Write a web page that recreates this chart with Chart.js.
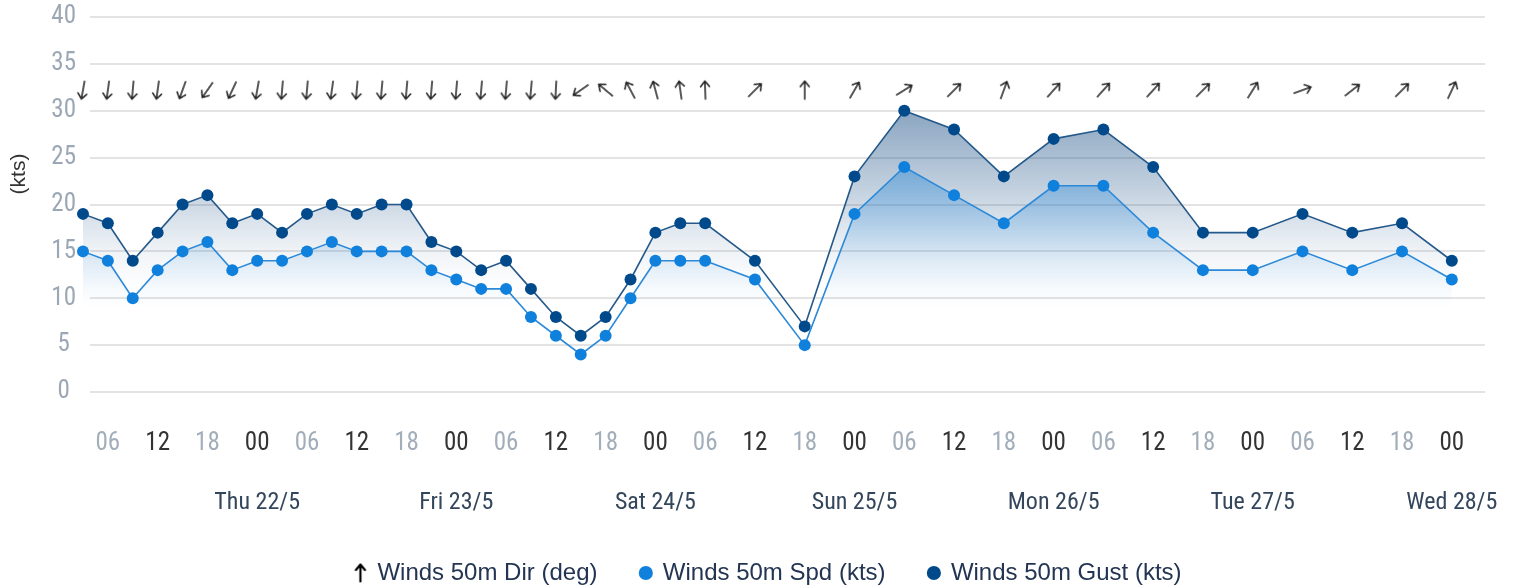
<!DOCTYPE html>
<html><head><meta charset="utf-8">
<script src="https://cdn.jsdelivr.net/npm/chart.js@4.4.1/dist/chart.umd.min.js"></script>
<style>html,body{margin:0;padding:0;background:#fff;}#wrap{width:1515px;height:588px;}</style>
</head><body><div id="wrap"><canvas id="c" width="1515" height="588"></canvas></div>
<script>
// hours relative to Thu 22/5 00:00
const hours = [-21,-18,-15,-12,-9,-6,-3,0,3,6,9,12,15,18,21,24,27,30,33,36,39,42,45,48,51,54,60,66,72,78,84,90,96,102,108,114,120,126,132,138,144];
const windDir = [10,8,5,8,20,35,25,10,5,5,8,5,5,5,5,5,5,5,5,3,55,130,152,165,172,178,225,180,210,238,225,200,222,222,222,225,212,250,232,225,205];
const windSpd = [15,14,10,13,15,16,13,14,14,15,16,15,15,15,13,12,11,11,8,6,4,6,10,14,14,14,12,5,19,24,21,18,22,22,17,13,13,15,13,15,12];
const windGust = [19,18,14,17,20,21,18,19,17,19,20,19,20,20,16,15,13,14,11,8,6,8,12,17,18,18,14,7,23,30,28,23,27,28,24,17,17,19,17,18,14];
const hourTicks = [-18,-12,-6,0,6,12,18,24,30,36,42,48,54,60,66,72,78,84,90,96,102,108,114,120,126,132,138,144];
const dayTicks = [0,24,48,72,96,120,144];
const dayLabels = ['Thu 22/5','Fri 23/5','Sat 24/5','Sun 25/5','Mon 26/5','Tue 27/5','Wed 28/5'];
const yTicks = [0,5,10,15,20,25,30,35,40];
const ARROW_Y = 32.2;

const NARROW = "'Liberation Sans Narrow','Arial Narrow','Roboto Condensed',Roboto,sans-serif";
const SANS = "'Liberation Sans',Arial,Helvetica,sans-serif";
const GAP = '\u00a0\u00a0\u00a0\u00a0\u00a0';

function makeArrow(w, h, lw, color) {
  const c = document.createElement('canvas');
  c.width = w; c.height = h;
  const g = c.getContext('2d');
  g.strokeStyle = color; g.lineWidth = lw; g.lineCap = 'round'; g.lineJoin = 'round';
  g.beginPath();
  g.moveTo(w/2, h-1.5); g.lineTo(w/2, 1.5);
  g.moveTo(w/2-4.5, 7); g.lineTo(w/2, 1.5); g.lineTo(w/2+4.5, 7);
  g.stroke();
  return c;
}
const arrowImg = makeArrow(14, 21, 1.5, '#222');
const legendArrow = makeArrow(14, 20, 2.2, '#000');

function hourLabel(v) {
  const h = ((v % 24) + 24) % 24;
  return (h < 10 ? '0' : '') + h;
}

function vGrad(chart, topVal, midVal, botVal, rgb, aTop, aMid) {
  const {ctx, chartArea, scales} = chart;
  if (!chartArea) return 'rgba(0,0,0,0)';
  const y = scales.y;
  const t = y.getPixelForValue(topVal), m = y.getPixelForValue(midVal), b = y.getPixelForValue(botVal);
  const g = ctx.createLinearGradient(0, t, 0, b);
  g.addColorStop(0, `rgba(${rgb},${aTop})`);
  g.addColorStop((m - t) / (b - t), `rgba(${rgb},${aMid})`);
  g.addColorStop(1, `rgba(${rgb},0)`);
  return g;
}

const decor = {
  id: 'decor',
  afterLayout(chart) {
    const l = chart.legend;
    if (l) { l.left += 26; l.right += 26; l.top += 7; l.bottom += 7; }
  },
  beforeDatasetsDraw(chart) {
    const {ctx, chartArea, scales: {y}} = chart;
    ctx.save();
    ctx.strokeStyle = '#e3e3e3';
    ctx.lineWidth = 2;
    yTicks.forEach(v => {
      const py = Math.round(y.getPixelForValue(v));
      ctx.beginPath();
      ctx.moveTo(chartArea.left + 12, py);
      ctx.lineTo(chartArea.right, py);
      ctx.stroke();
    });
    ctx.restore();
  },
  afterDraw(chart) {
    const {ctx} = chart;
    ctx.save();
    ctx.translate(19, 174);
    ctx.rotate(-Math.PI / 2);
    ctx.font = "21px " + SANS;
    ctx.fillStyle = '#333';
    ctx.textAlign = 'center';
    ctx.textBaseline = 'middle';
    ctx.fillText('(kts)', 0, 0);
    ctx.restore();
  }
};

new Chart(document.getElementById('c'), {
  type: 'line',
  data: {
    datasets: [
      {
        label: 'Winds 50m Dir (deg)',
        data: hours.map(h => ({x: h, y: ARROW_Y})),
        showLine: false,
        pointStyle: arrowImg,
        pointRadius: 10,
        rotation: c => windDir[c.dataIndex] + 180,
        borderColor: '#000',
        backgroundColor: '#000',
        clip: false
      },
      {
        label: 'Winds 50m Spd (kts)',
        data: hours.map((h, i) => ({x: h, y: windSpd[i]})),
        borderColor: '#2b89d8',
        borderWidth: 1.6,
        pointBackgroundColor: '#0f80dc',
        pointBorderColor: '#0f80dc',
        pointRadius: 6,
        pointBorderWidth: 0,
        tension: 0,
        fill: 'origin',
        backgroundColor: c => vGrad(c.chart, 24, 14, 9, '30,130,215', 0.42, 0.1),
        clip: 10
      },
      {
        label: 'Winds 50m Gust (kts)',
        data: hours.map((h, i) => ({x: h, y: windGust[i]})),
        borderColor: '#24598a',
        borderWidth: 1.6,
        pointBackgroundColor: '#004a8c',
        pointBorderColor: '#004a8c',
        pointRadius: 6,
        pointBorderWidth: 0,
        tension: 0,
        fill: 'origin',
        backgroundColor: c => vGrad(c.chart, 30, 15, 11, '0,60,120', 0.46, 0.06),
        clip: 10
      }
    ]
  },
  options: {
    responsive: false,
    animation: false,
    events: [],
    devicePixelRatio: 1,
    layout: {padding: {top: 17, right: 30, left: 0, bottom: 0}},
    scales: {
      x: {
        type: 'linear', min: -21.6, max: 148, weight: 0,
        afterBuildTicks: s => { s.ticks = hourTicks.map(v => ({value: v})); },
        afterFit: s => { s.height = 60; s.paddingLeft = 0; s.paddingRight = 0; },
        grid: {display: false, drawTicks: false},
        border: {display: false},
        ticks: {
          autoSkip: false, maxRotation: 0, padding: 37,
          font: {family: NARROW, size: 25},
          color: c => { const h = ((c.tick.value % 24) + 24) % 24; return (h === 6 || h === 18) ? '#a3aebb' : '#333333'; },
          callback: v => hourLabel(v)
        }
      },
      x2: {
        type: 'linear', min: -21.6, max: 148, position: 'bottom', weight: 1,
        afterBuildTicks: s => { s.ticks = dayTicks.map(v => ({value: v})); },
        afterFit: s => { s.height = 92; s.paddingLeft = 0; s.paddingRight = 0; },
        grid: {display: false, drawTicks: false},
        border: {display: false},
        ticks: {
          autoSkip: false, maxRotation: 0, padding: 37,
          font: {family: NARROW, size: 24},
          color: '#34465c',
          callback: v => dayLabels[dayTicks.indexOf(v)]
        }
      },
      y: {
        min: 0, max: 40,
        afterBuildTicks: s => { s.ticks = yTicks.map(v => ({value: v})); },
        afterFit: s => { s.width = 78; },
        grid: {display: false, drawTicks: false},
        border: {display: false},
        ticks: {
          crossAlign: 'center', padding: 2,
          font: {family: NARROW, size: 25},
          color: '#9ba7b4'
        }
      }
    },
    plugins: {
      tooltip: {enabled: false},
      legend: {
        position: 'bottom',
        labels: {
          usePointStyle: true,
          boxWidth: 10, boxHeight: 10,
          padding: 10,
          font: {family: SANS, size: 24},
          color: '#233552',
          generateLabels: chart => {
            const items = Chart.defaults.plugins.legend.labels.generateLabels(chart);
            const fills = ['#000', '#0f80dc', '#004a8c'];
            items.forEach((it, i) => {
              it.rotation = 0;
              it.lineWidth = 0;
              it.fillStyle = fills[i];
              it.strokeStyle = fills[i];
              it.fontColor = '#233552';
              if (i < items.length - 1) it.text = it.text + GAP;
              it.pointStyle = i === 0 ? legendArrow : 'circle';
            });
            return items;
          }
        }
      }
    }
  },
  plugins: [decor]
});
</script>
</body></html>
